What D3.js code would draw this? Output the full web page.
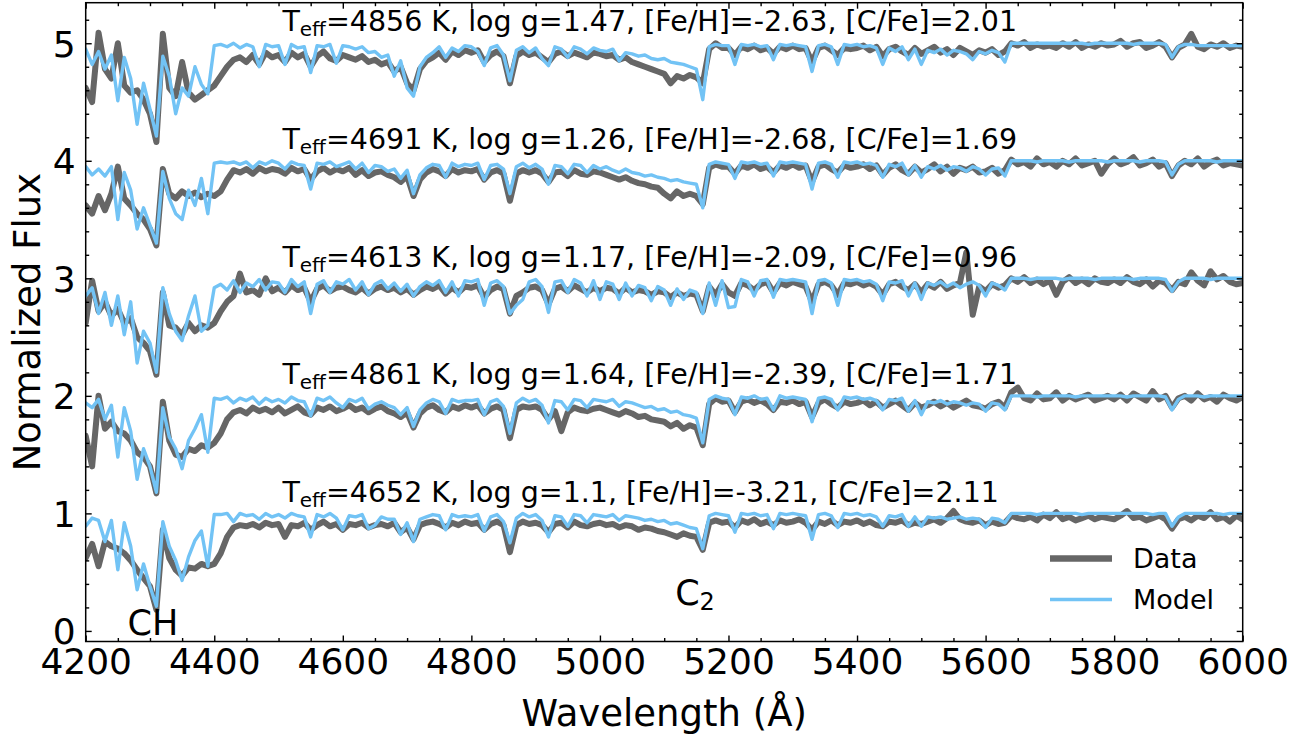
<!DOCTYPE html>
<html><head><meta charset="utf-8">
<script src="https://cdn.jsdelivr.net/npm/d3@7"></script>
<style>body{margin:0;background:#fff}svg{display:block}text{font-family:"DejaVu Sans",sans-serif}</style>
</head><body>
<svg id="chart" width="1313" height="736"></svg>
<script>
// Wavelength grid (Angstrom), 10 A sampling
const wavelengths = d3.range(4200, 6001, 10);
const offsets = [4, 3, 2, 1, 0];
const teff = [4856, 4691, 4613, 4861, 4652];
const logg = ["1.47", "1.26", "1.17", "1.64", "1.1"];
const feh = ["-2.63", "-2.68", "-2.09", "-2.39", "-3.21"];
const cfe = ["2.01", "1.69", "0.96", "1.71", "2.11"];
const xTicks = [4200, 4400, 4600, 4800, 5000, 5200, 5400, 5600, 5800, 6000];
const yTicks = [0, 1, 2, 3, 4, 5];

const model1 = [
0.95,0.82,0.93,0.78,0.90,0.51,0.88,0.70,0.31,0.66,
0.44,0.21,0.89,0.72,0.40,0.62,0.55,0.80,0.65,0.57,
0.98,0.99,0.97,1.0,0.96,0.99,0.97,0.80,0.99,0.97,
0.98,0.82,0.99,0.96,0.97,0.75,0.98,0.97,0.99,0.83,
0.98,0.97,0.95,0.97,0.92,0.93,0.88,0.90,0.72,0.85,
0.62,0.55,0.80,0.88,0.92,0.97,0.88,0.96,0.93,0.98,
0.97,0.93,0.81,0.96,0.98,0.90,0.68,0.94,0.97,0.92,
0.96,0.87,0.81,0.97,0.95,0.88,0.97,0.95,0.91,0.96,
0.94,0.93,0.95,0.85,0.92,0.91,0.89,0.90,0.87,0.86,
0.87,0.84,0.83,0.82,0.80,0.78,0.52,0.97,0.99,0.98,
0.98,0.82,0.99,0.98,0.99,0.97,0.98,0.86,0.99,0.98,
0.99,0.98,0.97,0.76,0.98,0.99,0.97,0.82,0.99,0.98,
0.99,0.97,0.98,0.96,0.82,0.96,0.93,0.97,0.86,0.95,
0.82,0.94,0.92,0.95,0.90,0.94,0.93,0.91,0.86,0.93,
0.91,0.94,0.92,0.84,1.0,1.0,1.0,1.0,1.0,1.0,
1.0,1.0,1.0,1.0,1.0,1.0,0.99,1.0,1.0,1.0,
1.0,1.0,1.0,0.99,1.0,1.0,1.0,1.0,0.99,0.88,
0.97,0.99,0.99,0.98,0.98,0.98,0.98,0.98,0.98,0.98,
0.98];
const data1 = [
0.62,0.50,1.09,0.78,0.70,1.0,0.64,0.58,0.60,0.52,
0.40,0.16,1.08,0.62,0.55,0.84,0.58,0.52,0.56,0.60,
0.64,0.72,0.80,0.86,0.88,0.84,0.90,0.82,0.92,0.88,
0.90,0.84,0.92,0.88,0.91,0.80,0.89,0.93,0.87,0.85,
0.90,0.88,0.86,0.89,0.84,0.86,0.82,0.84,0.76,0.80,
0.66,0.60,0.78,0.85,0.88,0.92,0.86,0.93,0.90,0.94,
0.92,0.94,0.84,0.90,0.93,0.89,0.66,0.89,0.93,0.90,
0.92,0.88,0.84,0.91,0.93,0.89,0.92,0.90,0.88,0.92,
0.91,0.89,0.90,0.86,0.88,0.84,0.82,0.80,0.78,0.76,
0.74,0.66,0.72,0.70,0.73,0.71,0.66,0.95,1.0,0.96,
0.96,0.90,0.97,0.95,0.98,0.94,0.96,0.91,0.97,0.95,
0.98,0.95,0.96,0.84,0.96,0.98,0.94,0.90,0.96,0.95,
0.96,0.98,0.94,0.97,0.89,0.95,0.97,0.93,0.90,0.96,
0.91,0.94,0.97,0.92,0.95,0.90,0.96,0.93,0.90,0.94,
0.92,0.95,0.90,0.93,1.0,0.98,1.01,0.96,0.99,0.97,
0.98,0.96,1.0,0.97,1.01,0.96,0.99,0.97,1.0,0.98,
0.99,1.02,0.97,1.0,1.01,0.96,0.98,1.01,0.97,0.88,
0.96,0.99,1.08,0.97,0.95,0.99,0.97,1.0,0.96,0.98,
0.97];
const model2 = [
0.95,0.88,0.93,0.87,0.95,0.50,0.90,0.75,0.42,0.60,
0.45,0.30,0.91,0.68,0.55,0.50,0.75,0.62,0.85,0.55,
0.98,0.99,0.98,0.99,0.97,0.99,0.94,0.99,0.97,1.0,
0.98,0.93,0.99,0.97,0.96,0.76,0.98,0.97,0.99,0.95,
0.97,0.99,0.93,0.98,0.90,0.96,0.95,0.91,0.93,0.85,
0.92,0.72,0.88,0.94,0.97,0.96,0.86,0.98,0.95,0.97,
0.96,0.98,0.84,0.96,0.97,0.93,0.72,0.95,0.98,0.94,
0.97,0.93,0.80,0.96,0.95,0.89,0.97,0.96,0.90,0.96,
0.93,0.95,0.92,0.90,0.93,0.90,0.89,0.87,0.88,0.86,
0.85,0.83,0.84,0.82,0.81,0.80,0.60,0.97,0.99,0.98,
0.97,0.85,0.99,0.98,0.99,0.97,0.98,0.87,0.99,0.98,
0.99,0.98,0.97,0.76,0.98,0.99,0.97,0.86,0.99,0.98,
0.99,0.97,0.98,0.96,0.86,0.97,0.95,0.98,0.88,0.96,
0.86,0.95,0.93,0.96,0.92,0.95,0.94,0.91,0.95,0.93,
0.88,0.93,0.94,0.87,1.0,1.0,1.0,1.0,0.99,1.0,
1.0,1.0,1.0,0.99,1.0,1.0,1.0,1.0,1.0,0.99,
1.0,1.0,1.0,1.0,0.99,1.0,1.0,1.0,0.99,0.88,
0.97,1.0,1.0,1.0,1.0,1.0,0.99,1.0,1.0,1.0,
1.0];
const data2 = [
0.62,0.55,0.70,0.58,0.72,0.95,0.68,0.62,0.55,0.50,
0.42,0.28,0.93,0.72,0.68,0.74,0.70,0.73,0.69,0.72,
0.70,0.74,0.84,0.92,0.90,0.93,0.89,0.94,0.91,0.93,
0.92,0.89,0.94,0.91,0.93,0.84,0.91,0.94,0.90,0.93,
0.91,0.94,0.88,0.92,0.87,0.90,0.91,0.88,0.86,0.82,
0.87,0.70,0.84,0.90,0.93,0.91,0.87,0.93,0.90,0.92,
0.91,0.93,0.84,0.90,0.92,0.89,0.66,0.89,0.92,0.90,
0.92,0.89,0.82,0.90,0.91,0.87,0.92,0.89,0.88,0.91,
0.90,0.88,0.86,0.84,0.86,0.83,0.81,0.80,0.78,0.77,
0.72,0.68,0.74,0.70,0.72,0.70,0.63,0.94,0.97,0.95,
0.95,0.89,0.96,0.94,0.97,0.93,0.95,0.90,0.96,0.94,
0.97,0.94,0.96,0.82,0.95,0.97,0.93,0.90,0.96,0.94,
0.95,0.97,0.93,0.96,0.88,0.94,0.97,0.92,0.89,0.95,
0.90,0.93,0.97,0.91,0.95,0.89,0.94,0.92,0.95,0.90,
0.91,0.94,0.89,0.92,1.01,0.97,0.99,0.95,1.02,0.97,
0.99,0.95,1.0,0.97,1.02,0.96,0.98,1.0,0.89,0.97,
1.02,0.97,0.99,1.03,0.96,0.98,1.01,0.95,0.98,0.87,
0.96,1.0,0.97,1.02,0.95,0.99,1.01,0.96,0.98,0.97,
0.96];
const model3 = [
0.85,0.92,0.70,0.88,0.60,0.85,0.52,0.80,0.28,0.55,
0.45,0.20,0.92,0.70,0.55,0.47,0.68,0.85,0.55,0.60,
0.92,0.95,0.90,0.98,0.88,0.96,0.93,0.99,0.90,0.97,
0.96,0.88,0.99,0.93,0.97,0.70,0.95,0.98,0.88,0.97,
0.95,0.99,0.90,0.97,0.86,0.95,0.98,0.91,0.96,0.89,
0.95,0.85,0.93,0.97,0.94,0.98,0.88,0.97,0.85,0.98,
0.97,0.99,0.77,0.96,0.98,0.93,0.70,0.77,0.82,0.97,
0.99,0.93,0.71,0.97,0.98,0.88,0.99,0.96,0.85,0.98,
0.82,0.97,0.95,0.82,0.96,0.85,0.94,0.92,0.81,0.93,
0.90,0.77,0.91,0.82,0.90,0.88,0.70,0.96,0.77,0.98,
0.75,0.76,0.99,0.97,0.85,0.98,0.99,0.84,0.99,0.98,
0.99,0.98,0.97,0.70,0.98,0.99,0.96,0.77,0.99,0.98,
0.99,0.97,0.98,0.95,0.81,0.97,0.96,0.98,0.85,0.96,
0.82,0.96,0.94,0.97,0.93,0.96,0.92,0.95,0.97,0.94,
0.85,0.96,0.94,0.90,1.0,1.0,1.0,0.99,1.0,1.0,
1.0,1.0,0.99,1.0,1.0,1.0,1.0,0.99,1.0,1.0,
1.0,1.0,1.0,0.99,1.0,1.0,1.0,1.0,0.99,0.89,
0.97,1.0,1.0,1.0,1.0,0.99,1.0,1.0,1.0,1.0,
1.0];
const data3 = [
0.62,0.98,0.72,0.80,0.68,0.74,0.62,0.66,0.50,0.45,
0.38,0.18,0.88,0.60,0.58,0.52,0.62,0.55,0.60,0.58,
0.62,0.72,0.80,0.85,1.04,0.88,0.90,0.86,1.0,0.89,
0.92,0.88,0.94,0.90,0.92,0.80,0.91,0.94,0.89,0.92,
0.93,0.90,0.88,0.92,0.87,0.91,0.93,0.90,0.92,0.88,
0.91,0.86,0.90,0.93,0.91,0.94,0.87,0.92,0.88,0.93,
0.92,0.94,0.84,0.90,0.93,0.91,0.70,0.85,0.88,0.92,
0.93,0.90,0.78,0.91,0.93,0.89,0.94,0.91,0.88,0.92,
0.89,0.92,0.91,0.87,0.92,0.88,0.90,0.89,0.86,0.89,
0.88,0.84,0.88,0.85,0.87,0.86,0.72,0.93,0.86,0.95,
0.88,0.85,0.96,0.94,0.90,0.95,0.97,0.88,0.96,0.94,
0.97,0.95,0.93,0.80,0.95,0.97,0.94,0.86,0.96,0.95,
0.97,0.94,0.96,0.93,0.86,0.95,0.97,0.93,0.90,0.95,
0.88,0.95,0.92,0.97,0.91,0.94,0.96,1.22,0.69,0.93,
0.89,0.95,0.92,0.94,1.0,0.97,1.01,0.96,0.99,0.95,
0.98,0.86,0.97,1.01,0.96,0.99,0.95,1.0,0.97,0.96,
0.99,0.96,1.01,0.97,0.95,0.99,0.93,0.98,0.96,0.90,
0.97,0.95,1.05,0.98,0.94,1.06,0.99,1.02,0.97,0.95,
0.96];
const model4 = [
0.94,0.90,0.97,0.80,0.92,0.48,0.90,0.70,0.29,0.55,
0.40,0.18,0.90,0.65,0.55,0.38,0.62,0.72,0.84,0.52,
0.98,0.97,0.99,0.94,0.98,0.96,0.99,0.93,0.98,0.95,
0.97,0.94,0.99,0.96,0.95,0.83,0.98,0.96,0.99,0.94,
0.90,0.97,0.95,0.98,0.89,0.93,0.95,0.92,0.90,0.84,
0.90,0.74,0.88,0.94,0.97,0.95,0.85,0.97,0.95,0.96,
0.96,0.97,0.84,0.95,0.97,0.91,0.68,0.94,0.98,0.95,
0.97,0.92,0.77,0.96,0.95,0.88,0.97,0.96,0.90,0.97,
0.96,0.95,0.97,0.91,0.95,0.94,0.92,0.90,0.91,0.88,
0.89,0.86,0.87,0.84,0.83,0.81,0.60,0.97,1.0,0.98,
0.97,0.84,0.99,0.98,1.0,0.97,0.98,0.88,1.0,0.98,
0.99,0.98,0.97,0.78,0.98,0.99,0.97,0.88,0.99,0.98,
0.99,0.97,0.98,0.96,0.88,0.97,0.96,0.98,0.87,0.96,
0.84,0.95,0.94,0.96,0.93,0.95,0.94,0.92,0.94,0.93,
0.87,0.94,0.93,0.88,1.0,1.0,1.0,1.0,0.99,1.0,
1.0,1.0,1.0,1.0,0.99,1.0,1.0,1.0,1.0,1.0,
1.0,1.0,0.99,1.0,1.0,1.0,1.0,1.0,0.99,0.88,
0.97,1.0,1.0,1.0,0.99,1.0,1.0,1.0,1.0,1.0,
1.0];
const data4 = [
0.66,0.40,1.0,0.72,0.78,0.70,0.68,0.62,0.52,0.48,
0.40,0.17,0.95,0.62,0.50,0.48,0.55,0.53,0.58,0.56,
0.60,0.68,0.80,0.86,0.88,0.85,0.90,0.87,0.89,0.86,
0.90,0.85,0.88,0.91,0.86,0.84,0.90,0.88,0.91,0.87,
0.89,0.92,0.88,0.90,0.86,0.89,0.91,0.87,0.85,0.82,
0.86,0.73,0.85,0.90,0.92,0.88,0.86,0.91,0.89,0.92,
0.90,0.92,0.85,0.89,0.91,0.88,0.64,0.88,0.91,0.90,
0.91,0.88,0.80,0.87,0.70,0.86,0.90,0.88,0.87,0.89,
0.90,0.88,0.86,0.84,0.87,0.85,0.82,0.83,0.80,0.79,
0.78,0.74,0.77,0.72,0.75,0.73,0.58,0.93,0.98,0.95,
0.96,0.86,0.95,0.97,0.94,0.96,0.93,0.88,0.95,0.94,
0.96,0.93,0.95,0.82,0.94,0.97,0.93,0.90,0.95,0.93,
0.94,0.96,0.92,0.95,0.90,0.93,0.96,0.92,0.88,0.94,
0.90,0.92,0.95,0.91,0.94,0.90,0.93,0.96,0.92,0.91,
0.89,0.93,0.95,0.90,1.03,1.07,0.98,0.96,1.02,0.97,
0.98,1.03,0.96,1.0,0.97,0.99,1.01,0.96,0.98,1.0,
0.97,1.01,0.96,1.02,0.99,0.96,1.04,0.97,1.0,0.90,
0.98,1.0,0.96,1.02,0.97,0.99,0.95,1.01,0.98,0.96,
0.99];
const model5 = [
0.89,0.96,0.94,0.76,0.94,0.52,0.92,0.72,0.35,0.57,
0.38,0.21,0.93,0.72,0.60,0.43,0.63,0.77,0.85,0.55,
0.99,0.99,1.0,0.93,1.0,0.98,0.99,0.95,1.0,0.97,
0.99,0.96,1.0,0.98,0.97,0.80,0.99,0.97,1.0,0.96,
0.86,0.98,0.97,0.99,0.87,0.90,0.97,0.95,0.95,0.82,
0.92,0.76,0.95,0.97,0.99,0.98,0.86,0.99,0.97,0.98,
0.97,0.99,0.85,0.97,0.99,0.93,0.75,0.96,1.0,0.97,
0.99,0.94,0.80,0.98,0.97,0.89,0.99,0.98,0.92,0.99,
0.98,0.97,0.99,0.94,0.98,0.97,0.96,0.94,0.95,0.93,
0.94,0.91,0.92,0.90,0.88,0.87,0.70,0.98,1.0,0.99,
0.98,0.84,1.0,0.99,1.0,0.98,0.99,0.87,1.0,0.99,
1.0,0.99,0.98,0.78,0.99,1.0,0.98,0.88,1.0,0.99,
1.0,0.98,0.99,0.97,0.89,0.98,0.97,0.99,0.89,0.97,
0.89,0.97,0.96,0.97,0.95,0.96,0.97,0.95,0.96,0.95,
0.88,0.96,0.95,0.92,1.0,1.0,1.0,1.0,0.99,1.0,
1.0,1.0,1.0,1.0,1.0,0.99,1.0,1.0,1.0,1.0,
1.0,1.0,1.0,1.0,1.0,1.0,0.99,1.0,1.0,0.89,
0.97,1.0,1.0,1.0,1.0,1.0,1.0,0.99,1.0,1.0,
1.0];
const data5 = [
0.62,0.74,0.55,0.76,0.72,0.70,0.66,0.60,0.52,0.45,
0.38,0.18,0.86,0.62,0.52,0.47,0.54,0.53,0.57,0.55,
0.57,0.66,0.80,0.88,0.90,0.89,0.91,0.88,0.92,0.90,
0.91,0.80,0.90,0.89,0.92,0.86,0.90,0.93,0.89,0.91,
0.86,0.91,0.90,0.92,0.88,0.90,0.91,0.89,0.92,0.84,
0.88,0.78,0.90,0.92,0.93,0.91,0.88,0.92,0.90,0.93,
0.91,0.92,0.86,0.91,0.93,0.90,0.67,0.90,0.93,0.91,
0.92,0.90,0.84,0.91,0.92,0.88,0.93,0.90,0.89,0.91,
0.92,0.90,0.91,0.88,0.90,0.89,0.86,0.88,0.87,0.85,
0.84,0.82,0.80,0.83,0.81,0.80,0.69,0.92,0.94,0.92,
0.93,0.88,0.94,0.92,0.95,0.91,0.93,0.90,0.94,0.92,
0.93,0.95,0.92,0.86,0.93,0.91,0.94,0.90,0.93,0.92,
0.94,0.91,0.93,0.90,0.89,0.93,0.92,0.94,0.90,0.92,
0.91,0.93,0.95,0.92,0.96,1.02,0.95,0.93,0.92,0.94,
0.90,0.93,0.91,0.92,0.98,0.96,0.95,0.97,0.94,0.99,
0.96,1.01,0.95,0.97,0.94,0.96,0.98,0.95,0.97,0.96,
0.95,0.98,1.02,0.96,0.97,0.94,0.96,0.98,0.95,0.87,
0.95,0.97,0.94,0.98,0.96,1.01,0.95,0.97,0.93,0.98,
0.95];

const models = [model1, model2, model3, model4, model5];
const datas = [data1, data2, data3, data4, data5];

const svg = d3.select("#chart");
const L = 85.7, R = 1242.7, T = 2.7, B = 641.5;
const x = d3.scaleLinear().domain([4200, 6000]).range([L, R]);
const y = d3.scaleLinear().domain([-0.09, 5.345]).range([B, T]);

const dataColor = "#666666", modelColor = "#72c3f5";

svg.append("defs").append("clipPath").attr("id", "clip")
  .append("rect").attr("x", L).attr("y", T).attr("width", R - L).attr("height", B - T);

const plot = svg.append("g").attr("clip-path", "url(#clip)");

models.forEach((m, k) => {
  const off = offsets[k];
  const line = d3.line().x((d, i) => x(wavelengths[i])).y(d => y(d + off));
  plot.append("path").datum(datas[k]).attr("d", line)
    .attr("fill", "none").attr("stroke", dataColor).attr("stroke-width", 6)
    .attr("stroke-linejoin", "round").attr("stroke-linecap", "round");
  plot.append("path").datum(m).attr("d", line)
    .attr("fill", "none").attr("stroke", modelColor).attr("stroke-width", 3.4)
    .attr("stroke-linejoin", "round").attr("stroke-linecap", "round");
});

// annotations
offsets.forEach((off, k) => {
  const t = svg.append("text").attr("x", x(4506)).attr("y", y(off + 1.1))
    .attr("font-size", 28.5).attr("fill", "#000");
  t.append("tspan").text("T");
  t.append("tspan").attr("font-size", 20).attr("dy", 5).text("eff");
  t.append("tspan").attr("dy", -5).text(`=${teff[k]} K, log g=${logg[k]}, [Fe/H]=${feh[k]}, [C/Fe]=${cfe[k]}`);
});

// CH and C2 labels
svg.append("text").attr("x", x(4265)).attr("y", y(-0.035)).attr("font-size", 35).text("CH");
const c2 = svg.append("text").attr("x", x(5117)).attr("y", y(0.22)).attr("font-size", 35);
c2.append("tspan").text("C");
c2.append("tspan").attr("font-size", 24).attr("dy", 5).text("2");

// axes
const xMinor = d3.range(4200, 6001, 50).filter(v => !xTicks.includes(v));
const yMinor = d3.range(0, 5.35, 0.2).map(v => +v.toFixed(1)).filter(v => !yTicks.includes(v));
function styleAxis(g) {
  g.select(".domain").remove();
  g.selectAll("line").attr("stroke", "#000").attr("stroke-width", 1.4);
  g.attr("font-family", "DejaVu Sans, sans-serif");
}
svg.append("g").attr("transform", `translate(0,${B})`)
  .call(d3.axisBottom(x).tickValues(xTicks).tickSize(-6).tickPadding(7).tickFormat(d3.format("d")))
  .call(styleAxis).attr("font-size", 36).selectAll("text").attr("fill", "#000");
svg.append("g").attr("transform", `translate(0,${B})`)
  .call(d3.axisBottom(x).tickValues(xMinor).tickSize(-3.5).tickFormat("")).call(styleAxis);
svg.append("g").attr("transform", `translate(0,${T})`)
  .call(d3.axisTop(x).tickValues(xTicks).tickSize(-6).tickFormat("")).call(styleAxis);
svg.append("g").attr("transform", `translate(0,${T})`)
  .call(d3.axisTop(x).tickValues(xMinor).tickSize(-3.5).tickFormat("")).call(styleAxis);
svg.append("g").attr("transform", `translate(${L},0)`)
  .call(d3.axisLeft(y).tickValues(yTicks).tickSize(-6).tickPadding(10).tickFormat(d3.format("d")))
  .call(styleAxis).attr("font-size", 36).selectAll("text").attr("fill", "#000").attr("dy", "0.36em");
svg.append("g").attr("transform", `translate(${L},0)`)
  .call(d3.axisLeft(y).tickValues(yMinor).tickSize(-3.5).tickFormat("")).call(styleAxis);
svg.append("g").attr("transform", `translate(${R},0)`)
  .call(d3.axisRight(y).tickValues(yTicks).tickSize(-6).tickFormat("")).call(styleAxis);
svg.append("g").attr("transform", `translate(${R},0)`)
  .call(d3.axisRight(y).tickValues(yMinor).tickSize(-3.5).tickFormat("")).call(styleAxis);

svg.append("rect").attr("x", L).attr("y", T).attr("width", R - L).attr("height", B - T)
  .attr("fill", "none").attr("stroke", "#000").attr("stroke-width", 1.5);

// axis titles
svg.append("text").attr("x", (L + R) / 2).attr("y", 726).attr("text-anchor", "middle")
  .attr("font-size", 37).text("Wavelength (Å)");
svg.append("text").attr("transform", `translate(40,${(T + B) / 2}) rotate(-90)`)
  .attr("text-anchor", "middle").attr("font-size", 37).text("Normalized Flux");

// legend
const legend = [{name: "Data", color: dataColor, w: 6.5, yy: 558.5}, {name: "Model", color: modelColor, w: 3.4, yy: 599.5}];
legend.forEach(d => {
  svg.append("line").attr("x1", 1050).attr("x2", 1112).attr("y1", d.yy).attr("y2", d.yy)
    .attr("stroke", d.color).attr("stroke-width", d.w);
  svg.append("text").attr("x", 1133).attr("y", d.yy + 9.6).attr("font-size", 27).text(d.name);
});
</script>
</body></html>
